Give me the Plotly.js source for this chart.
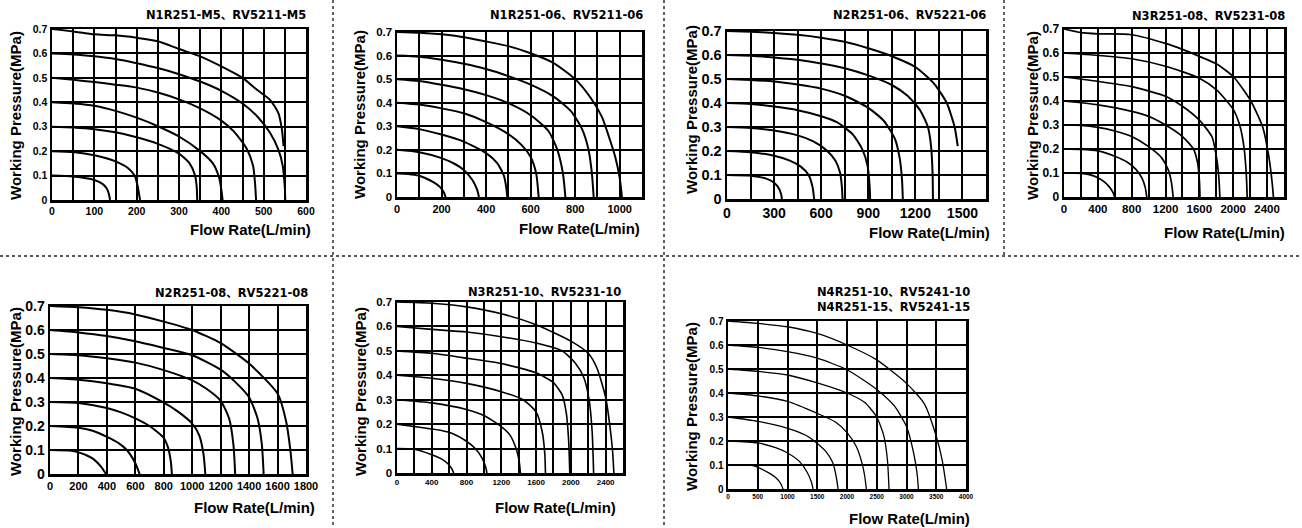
<!DOCTYPE html>
<html>
<head>
<meta charset="utf-8">
<script src="https://cdn.plot.ly/plotly-3.0.1.min.js"></script>
<style>
html,body{margin:0;padding:0;background:#fff;}
#chart{width:1302px;height:528px;}
</style>
</head>
<body>
<div id="chart"></div>
<script>
// ================= DATA =================
const pressureTicks = [0, 0.1, 0.2, 0.3, 0.4, 0.5, 0.6, 0.7];
const pressureTickText = ['0', '0.1', '0.2', '0.3', '0.4', '0.5', '0.6', '0.7'];
const xTitleText = 'Flow Rate(L/min)';
const yTitleText = 'Working Pressure(MPa)';

const panelTitles = [
  'N1R251-M5、RV5211-M5',
  'N1R251-06、RV5211-06',
  'N2R251-06、RV5221-06',
  'N3R251-08、RV5231-08',
  'N2R251-08、RV5221-08',
  'N3R251-10、RV5231-10',
  'N4R251-10、RV5241-10<br>N4R251-15、RV5241-15'
];

// Panel 1: N1R251-M5
const p1Ticks = [0, 100, 200, 300, 400, 500, 600];
const p1Flow = [
  [0, 50, 100, 120, 130, 135, 137],
  [0, 50, 100, 150, 180, 195, 202, 206, 208],
  [0, 50, 100, 150, 200, 250, 300, 325, 338, 342, 343],
  [0, 50, 100, 150, 200, 250, 300, 350, 380, 395, 401, 403],
  [0, 50, 100, 150, 200, 250, 300, 350, 400, 430, 460, 475, 480, 482],
  [0, 50, 100, 150, 200, 250, 300, 350, 400, 450, 485, 515, 535, 545, 550, 551],
  [0, 50, 100, 150, 200, 250, 300, 350, 400, 450, 485, 515, 535, 543, 547]
];
const p1Pres = [
  [0.1, 0.096, 0.082, 0.065, 0.045, 0.02, 0],
  [0.2, 0.196, 0.183, 0.158, 0.13, 0.1, 0.06, 0.02, 0],
  [0.3, 0.297, 0.29, 0.277, 0.257, 0.23, 0.19, 0.15, 0.1, 0.05, 0],
  [0.4, 0.395, 0.386, 0.365, 0.337, 0.302, 0.26, 0.2, 0.15, 0.09, 0.03, 0],
  [0.5, 0.492, 0.483, 0.472, 0.46, 0.44, 0.412, 0.375, 0.325, 0.28, 0.21, 0.14, 0.06, 0],
  [0.6, 0.596, 0.588, 0.577, 0.56, 0.54, 0.515, 0.485, 0.447, 0.395, 0.342, 0.275, 0.205, 0.14, 0.05, 0],
  [0.7, 0.69, 0.678, 0.674, 0.664, 0.65, 0.618, 0.588, 0.547, 0.5, 0.45, 0.41, 0.355, 0.29, 0.22]
];

// Panel 2: N1R251-06
const p2Ticks = [0, 200, 400, 600, 800, 1000];
const p2Flow = [
  [0, 50, 100, 150, 190, 210, 218],
  [0, 100, 200, 260, 300, 340, 360, 368],
  [0, 100, 200, 300, 400, 450, 480, 492, 495],
  [0, 100, 200, 300, 400, 500, 560, 600, 625, 636],
  [0, 100, 200, 300, 400, 500, 600, 680, 720, 745, 756],
  [0, 100, 200, 300, 400, 500, 600, 700, 780, 830, 860, 875, 883],
  [0, 100, 200, 300, 400, 500, 600, 700, 800, 870, 920, 950, 980, 1000, 1010]
];
const p2Pres = [
  [0.1, 0.098, 0.09, 0.07, 0.045, 0.02, 0],
  [0.2, 0.19, 0.165, 0.14, 0.115, 0.07, 0.03, 0],
  [0.3, 0.288, 0.265, 0.235, 0.186, 0.144, 0.09, 0.03, 0],
  [0.4, 0.392, 0.376, 0.355, 0.318, 0.267, 0.22, 0.17, 0.1, 0],
  [0.5, 0.492, 0.476, 0.457, 0.432, 0.398, 0.347, 0.28, 0.2, 0.1, 0],
  [0.6, 0.595, 0.582, 0.565, 0.543, 0.513, 0.477, 0.428, 0.365, 0.29, 0.2, 0.1, 0],
  [0.7, 0.697, 0.69, 0.678, 0.66, 0.64, 0.61, 0.57, 0.5, 0.42, 0.34, 0.26, 0.17, 0.08, 0]
];

// Panel 3: N2R251-06
const p3Ticks = [0, 300, 600, 900, 1200, 1500];
const p3Flow = [
  [0, 150, 250, 300, 330, 345, 350],
  [0, 150, 300, 400, 470, 520, 545, 555],
  [0, 150, 300, 450, 550, 630, 690, 720, 732, 736],
  [0, 150, 300, 450, 600, 700, 800, 860, 895, 908, 912],
  [0, 150, 300, 450, 600, 750, 900, 1000, 1070, 1100, 1115, 1120],
  [0, 150, 300, 450, 600, 750, 900, 1050, 1150, 1230, 1280, 1300, 1310, 1312],
  [0, 150, 300, 450, 600, 750, 900, 1050, 1200, 1320, 1400, 1450, 1470]
];
const p3Pres = [
  [0.1, 0.097, 0.085, 0.068, 0.045, 0.02, 0],
  [0.2, 0.195, 0.18, 0.16, 0.135, 0.1, 0.05, 0],
  [0.3, 0.296, 0.285, 0.265, 0.24, 0.205, 0.16, 0.11, 0.05, 0],
  [0.4, 0.396, 0.385, 0.37, 0.345, 0.32, 0.27, 0.21, 0.14, 0.06, 0],
  [0.5, 0.496, 0.49, 0.477, 0.46, 0.43, 0.38, 0.325, 0.25, 0.17, 0.08, 0],
  [0.6, 0.597, 0.59, 0.58, 0.565, 0.545, 0.515, 0.475, 0.43, 0.37, 0.3, 0.22, 0.1, 0],
  [0.7, 0.697, 0.692, 0.684, 0.672, 0.655, 0.628, 0.595, 0.55, 0.48, 0.4, 0.3, 0.22]
];

// Panel 4: N3R251-08
const p4Ticks = [0, 400, 800, 1200, 1600, 2000, 2400];
const p4Flow = [
  [0, 200, 300, 400, 480, 540, 580, 600],
  [0, 200, 400, 600, 750, 850, 920, 960, 978],
  [0, 200, 400, 600, 800, 1000, 1150, 1230, 1270, 1290],
  [0, 400, 800, 1000, 1200, 1400, 1530, 1580, 1600, 1607],
  [0, 400, 800, 1200, 1400, 1600, 1750, 1800, 1830, 1842],
  [0, 400, 800, 1200, 1600, 1800, 2000, 2080, 2130, 2155, 2165],
  [0, 200, 400, 800, 1200, 1400, 1600, 1800, 2000, 2200, 2350, 2420, 2460, 2475]
];
const p4Pres = [
  [0.1, 0.098, 0.093, 0.08, 0.062, 0.04, 0.018, 0],
  [0.2, 0.198, 0.192, 0.17, 0.145, 0.115, 0.08, 0.04, 0],
  [0.3, 0.298, 0.29, 0.275, 0.252, 0.21, 0.165, 0.115, 0.06, 0],
  [0.4, 0.384, 0.357, 0.336, 0.3, 0.252, 0.2, 0.14, 0.07, 0],
  [0.5, 0.482, 0.46, 0.42, 0.378, 0.32, 0.25, 0.17, 0.08, 0],
  [0.6, 0.59, 0.576, 0.545, 0.495, 0.447, 0.365, 0.295, 0.2, 0.09, 0],
  [0.7, 0.685, 0.68, 0.676, 0.64, 0.615, 0.586, 0.555, 0.502, 0.405, 0.29, 0.17, 0.06, 0]
];

// Panel 5: N2R251-08
const p5Ticks = [0, 200, 400, 600, 800, 1000, 1200, 1400, 1600, 1800];
const p5Flow = [
  [0, 150, 200, 260, 310, 360, 394],
  [0, 200, 300, 400, 480, 540, 600, 630],
  [0, 200, 400, 500, 600, 700, 800, 830, 850, 857],
  [0, 200, 400, 600, 800, 900, 1000, 1050, 1080, 1092],
  [0, 200, 400, 600, 800, 1000, 1100, 1200, 1260, 1290, 1302],
  [0, 200, 400, 600, 800, 1000, 1200, 1300, 1400, 1460, 1490, 1502],
  [0, 200, 400, 600, 800, 1000, 1200, 1400, 1600, 1660, 1690, 1706]
];
const p5Pres = [
  [0.1, 0.097, 0.09, 0.077, 0.06, 0.03, 0],
  [0.2, 0.193, 0.18, 0.155, 0.13, 0.1, 0.045, 0],
  [0.3, 0.296, 0.275, 0.257, 0.232, 0.2, 0.15, 0.11, 0.05, 0],
  [0.4, 0.393, 0.378, 0.355, 0.297, 0.26, 0.21, 0.16, 0.08, 0],
  [0.5, 0.495, 0.482, 0.464, 0.433, 0.39, 0.355, 0.305, 0.23, 0.12, 0],
  [0.6, 0.59, 0.575, 0.553, 0.525, 0.495, 0.435, 0.385, 0.32, 0.23, 0.12, 0],
  [0.7, 0.695, 0.684, 0.665, 0.635, 0.6, 0.545, 0.46, 0.335, 0.22, 0.1, 0]
];

// Panel 6: N3R251-10
const p6Ticks = [0, 400, 800, 1200, 1600, 2000, 2400];
const p6Flow = [
  [0, 200, 400, 500, 580, 630, 652],
  [0, 300, 500, 650, 800, 900, 980, 1020, 1035],
  [0, 400, 800, 1000, 1200, 1300, 1370, 1405, 1420],
  [0, 400, 800, 1200, 1450, 1600, 1670, 1700, 1708],
  [0, 400, 800, 1200, 1600, 1800, 1900, 1950, 1975, 1988],
  [0, 400, 800, 1200, 1600, 1900, 2050, 2150, 2210, 2245, 2262],
  [0, 400, 800, 1200, 1600, 2000, 2200, 2300, 2400, 2450, 2480, 2495]
];
const p6Pres = [
  [0.1, 0.097, 0.075, 0.06, 0.04, 0.018, 0],
  [0.2, 0.185, 0.175, 0.16, 0.13, 0.1, 0.06, 0.025, 0],
  [0.3, 0.287, 0.26, 0.235, 0.19, 0.155, 0.1, 0.05, 0],
  [0.4, 0.388, 0.367, 0.333, 0.3, 0.25, 0.17, 0.08, 0],
  [0.5, 0.49, 0.47, 0.448, 0.41, 0.37, 0.32, 0.24, 0.13, 0],
  [0.6, 0.588, 0.577, 0.558, 0.532, 0.5, 0.45, 0.39, 0.3, 0.17, 0],
  [0.7, 0.695, 0.68, 0.652, 0.607, 0.54, 0.49, 0.43, 0.31, 0.19, 0.09, 0]
];

// Panel 7: N4R251-10 / N4R251-15
const p7Ticks = [0, 500, 1000, 1500, 2000, 2500, 3000, 3500, 4000];
const p7Flow = [
  [0, 400, 550, 700, 800, 880, 926],
  [0, 500, 800, 1000, 1200, 1330, 1400, 1430],
  [0, 500, 1000, 1300, 1500, 1650, 1760, 1820, 1850],
  [0, 500, 1000, 1500, 1800, 2000, 2150, 2250, 2300, 2325],
  [0, 500, 1000, 1500, 2000, 2300, 2500, 2620, 2680, 2706],
  [0, 500, 1000, 1500, 2000, 2500, 2800, 3000, 3120, 3180, 3200],
  [0, 500, 1000, 1500, 2000, 2500, 3000, 3300, 3500, 3600, 3675]
];
const p7Pres = [
  [0.1, 0.098, 0.085, 0.065, 0.048, 0.025, 0],
  [0.2, 0.192, 0.172, 0.15, 0.115, 0.07, 0.03, 0],
  [0.3, 0.282, 0.253, 0.225, 0.19, 0.155, 0.11, 0.05, 0],
  [0.4, 0.388, 0.365, 0.315, 0.28, 0.235, 0.18, 0.11, 0.05, 0],
  [0.5, 0.49, 0.475, 0.442, 0.4, 0.36, 0.3, 0.22, 0.12, 0],
  [0.6, 0.59, 0.572, 0.545, 0.497, 0.415, 0.345, 0.26, 0.15, 0.06, 0],
  [0.7, 0.69, 0.676, 0.648, 0.6, 0.538, 0.44, 0.355, 0.22, 0.12, 0]
];

// ================= LAYOUT / STYLE =================
const W = 1302, H = 528;
const FONT = 'Liberation Sans, Arial, sans-serif';
const TFONT = 'DejaVu Sans, Noto Sans CJK SC, sans-serif';

const panels = [
  {flow:p1Flow, pres:p1Pres, ticks:p1Ticks, L:52, R:306, T:29, B:200, xmax:600, minor:50, xfs:10.5, yfs:10.5, lw:2,
   tPos:[308,15], xtPos:[313,229], ytPos:[15,116]},
  {flow:p2Flow, pres:p2Pres, ticks:p2Ticks, L:397, R:642, T:32, B:197, xmax:1100, minor:100, xfs:11, yfs:11.5, lw:2,
   tPos:[645,15], xtPos:[642,228], ytPos:[360,115]},
  {flow:p3Flow, pres:p3Pres, ticks:p3Ticks, L:727, R:986, T:31, B:199, xmax:1650, minor:150, xfs:14, yfs:14.5, lw:2,
   tPos:[988,15], xtPos:[992,232], ytPos:[691,110]},
  {flow:p4Flow, pres:p4Pres, ticks:p4Ticks, L:1064, R:1284, T:29, B:197, xmax:2600, minor:200, xfs:11.5, yfs:12, lw:1.7,
   tPos:[1287,16], xtPos:[1287,232], ytPos:[1032,116]},
  {flow:p5Flow, pres:p5Pres, ticks:p5Ticks, L:50, R:306, T:306, B:474, xmax:1800, minor:0, xfs:11, yfs:14, lw:2,
   tPos:[310,293], xtPos:[317,507], ytPos:[15,392]},
  {flow:p6Flow, pres:p6Pres, ticks:p6Ticks, L:397, R:623, T:302, B:473, xmax:2600, minor:200, xfs:8, yfs:11.5, lw:1.6,
   tPos:[623,292], xtPos:[618,507], ytPos:[360,392]},
  {flow:p7Flow, pres:p7Pres, ticks:p7Ticks, L:728, R:966, T:321, B:489, xmax:4000, minor:0, xfs:6.5, yfs:10, lw:1.3,
   tPos:[972,299], xtPos:[972,518], ytPos:[691,407]}
];

const traces = [];
const layout = {
  width: W, height: H, autosize: false,
  margin: {l:0, r:0, t:0, b:0, pad:0},
  paper_bgcolor: '#fff', plot_bgcolor: '#fff',
  showlegend: false,
  annotations: [],
  shapes: []
};

panels.forEach((p, i) => {
  const k = i + 1;
  const xa = 'x' + k, ya = 'y' + k;
  p.flow.forEach((fx, j) => {
    traces.push({
      x: fx, y: p.pres[j], xaxis: xa, yaxis: ya,
      type: 'scatter', mode: 'lines', hoverinfo: 'skip',
      line: {color: '#000', width: p.lw, shape: 'spline', smoothing: 0.6}
    });
  });
  const xax = {
    domain: [p.L / W, p.R / W], anchor: ya, range: [0, p.xmax],
    tickmode: 'array', tickvals: p.ticks, ticktext: p.ticks.map(String),
    showgrid: true, gridcolor: '#000', gridwidth: 2,
    showline: true, mirror: true, linecolor: '#000', linewidth: 2.5,
    ticks: '', zeroline: false, fixedrange: true,
    tickfont: {family: FONT, size: p.xfs, color: '#000', weight: 'bold'}
  };
  if (p.minor) {
    xax.minor = {tickmode: 'linear', tick0: 0, dtick: p.minor, showgrid: true, gridcolor: '#000', gridwidth: 2, ticks: ''};
  }
  layout['xaxis' + k] = xax;
  layout['yaxis' + k] = {
    domain: [1 - p.B / H, 1 - p.T / H], anchor: xa, range: [0, 0.7],
    tickmode: 'array', tickvals: pressureTicks, ticktext: pressureTickText,
    showgrid: true, gridcolor: '#000', gridwidth: 2,
    showline: true, mirror: true, linecolor: '#000', linewidth: 2.5,
    ticks: '', zeroline: false, fixedrange: true,
    tickfont: {family: FONT, size: p.yfs, color: '#000', weight: 'bold'}
  };
  // panel title
  layout.annotations.push({
    text: panelTitles[i], xref: 'paper', yref: 'paper',
    x: p.tPos[0] / W, y: 1 - p.tPos[1] / H, xanchor: 'right', yanchor: 'middle',
    showarrow: false, align: 'right',
    font: {family: TFONT, size: 11.5, color: '#000', weight: 'bold'}
  });
  // x axis title
  layout.annotations.push({
    text: xTitleText, xref: 'paper', yref: 'paper',
    x: p.xtPos[0] / W, y: 1 - p.xtPos[1] / H, xanchor: 'right', yanchor: 'middle',
    showarrow: false,
    font: {family: FONT, size: 15, color: '#000', weight: 'bold'}
  });
  // y axis title
  layout.annotations.push({
    text: yTitleText, xref: 'paper', yref: 'paper',
    x: p.ytPos[0] / W, y: 1 - p.ytPos[1] / H, xanchor: 'center', yanchor: 'middle',
    textangle: -90, showarrow: false,
    font: {family: FONT, size: 15, color: '#000', weight: 'bold'}
  });
});

// dotted separators
const sep = (x0, y0, x1, y1) => ({
  type: 'line', xref: 'paper', yref: 'paper',
  x0: x0 / W, y0: 1 - y0 / H, x1: x1 / W, y1: 1 - y1 / H,
  line: {color: '#222', width: 1.4, dash: 'dot'}
});
layout.shapes.push(sep(0, 256, W, 256));
layout.shapes.push(sep(333, 0, 333, H));
layout.shapes.push(sep(664, 0, 664, H));
layout.shapes.push(sep(1004, 0, 1004, 256));

Plotly.newPlot('chart', traces, layout, {staticPlot: true, displayModeBar: false});
</script>
</body>
</html>
